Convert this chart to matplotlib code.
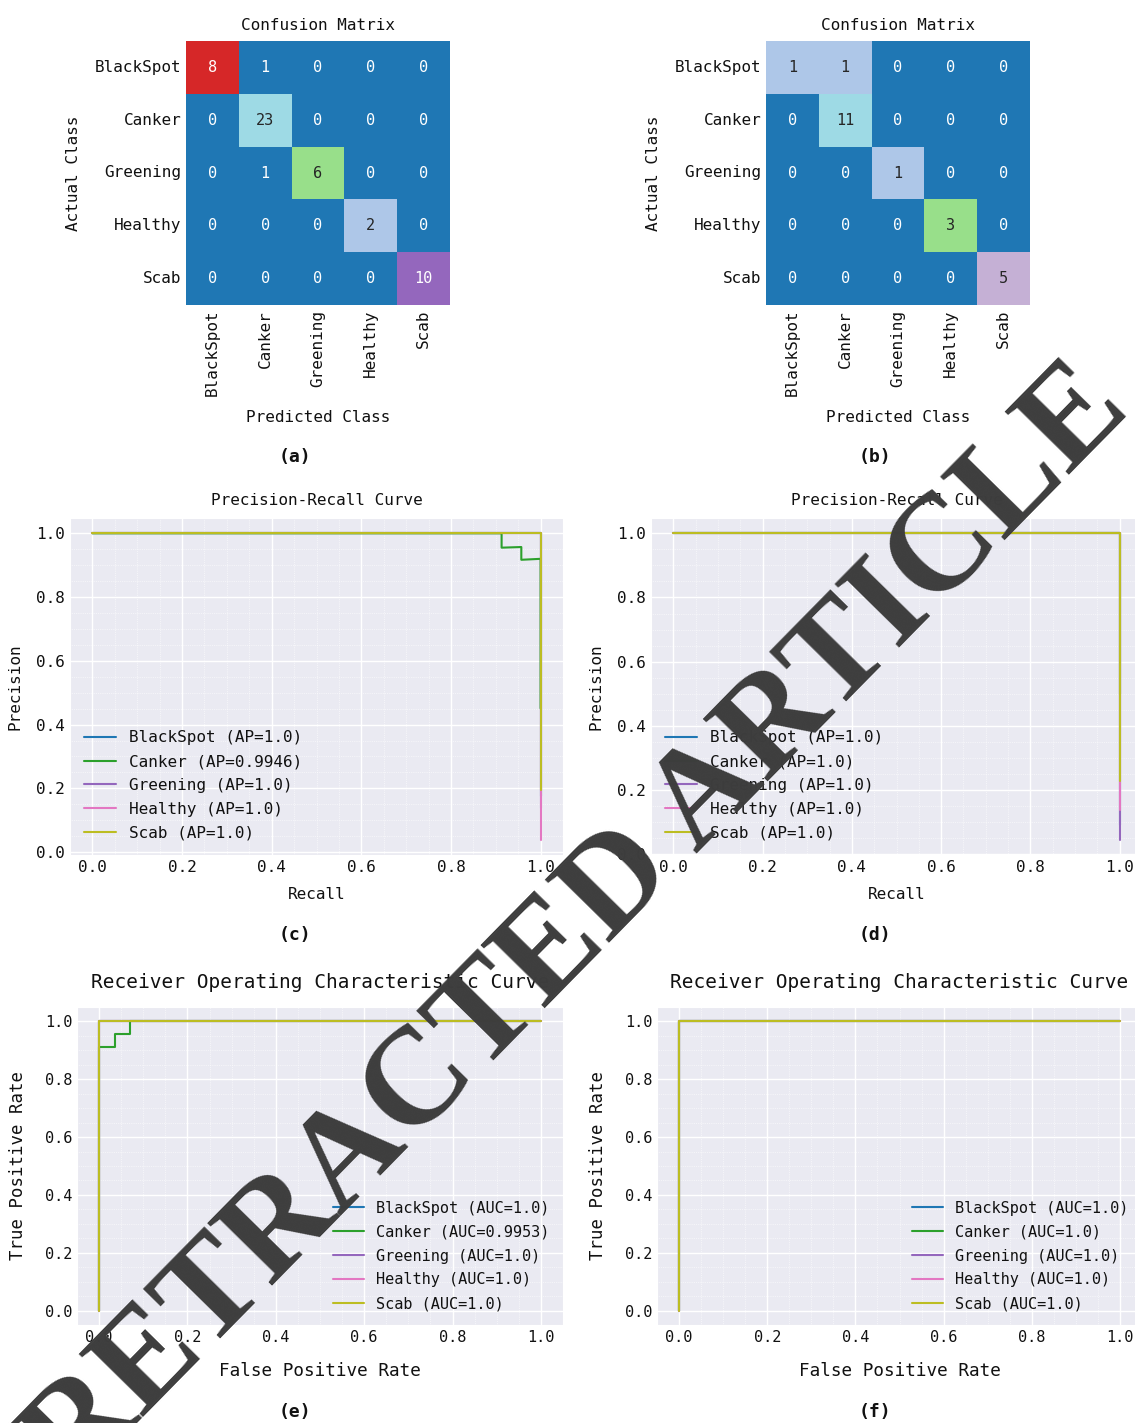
import numpy as np
import seaborn as sns
from matplotlib import pyplot as plt
from matplotlib.ticker import AutoMinorLocator

# class names and confusion matrices (rows = actual, cols = predicted)
classes = ["BlackSpot", "Canker", "Greening", "Healthy", "Scab"]
cm_a = [[8, 1, 0, 0, 0],
        [0, 23, 0, 0, 0],
        [0, 1, 6, 0, 0],
        [0, 0, 0, 2, 0],
        [0, 0, 0, 0, 10]]
cm_b = [[1, 1, 0, 0, 0],
        [0, 11, 0, 0, 0],
        [0, 0, 1, 0, 0],
        [0, 0, 0, 3, 0],
        [0, 0, 0, 0, 5]]

# precision-recall curves, panel (c)
pr_c_recall = [[0, 1, 1],
               [0, 0.913, 0.913, 0.957, 0.957, 1.0, 1.0],
               [0, 1, 1],
               [0, 1, 1],
               [0, 1, 1]]
pr_c_precision = [[1, 1, 0.176],
                  [1, 1, 0.955, 0.957, 0.917, 0.92, 0.451],
                  [1, 1, 0.137],
                  [1, 1, 0.039],
                  [1, 1, 0.196]]
ap_c = [1.0, 0.9946, 1.0, 1.0, 1.0]

# precision-recall curves, panel (d)
pr_d_recall = [[0, 1, 1], [0, 1, 1], [0, 1, 1], [0, 1, 1], [0, 1, 1]]
pr_d_precision = [[1, 1, 0.091],
                  [1, 1, 0.5],
                  [1, 1, 0.045],
                  [1, 1, 0.136],
                  [1, 1, 0.227]]
ap_d = [1.0, 1.0, 1.0, 1.0, 1.0]

# ROC curves, panel (e)
roc_e_fpr = [[0, 0, 1],
             [0, 0, 0.036, 0.036, 0.071, 0.071, 1],
             [0, 0, 1],
             [0, 0, 1],
             [0, 0, 1]]
roc_e_tpr = [[0, 1, 1],
             [0, 0.913, 0.913, 0.957, 0.957, 1, 1],
             [0, 1, 1],
             [0, 1, 1],
             [0, 1, 1]]
auc_e = [1.0, 0.9953, 1.0, 1.0, 1.0]

# ROC curves, panel (f)
roc_f_fpr = [[0, 0, 1], [0, 0, 1], [0, 0, 1], [0, 0, 1], [0, 0, 1]]
roc_f_tpr = [[0, 1, 1], [0, 1, 1], [0, 1, 1], [0, 1, 1], [0, 1, 1]]
auc_f = [1.0, 1.0, 1.0, 1.0, 1.0]

line_colors = ["#1f77b4", "#2ca02c", "#9467bd", "#e377c2", "#bcbd22"]

sns.set_style("darkgrid")
plt.rcParams["font.family"] = ["DejaVu Sans Mono"]
plt.rcParams["text.color"] = "#111111"
plt.rcParams["axes.labelcolor"] = "#111111"
plt.rcParams["xtick.color"] = "#111111"
plt.rcParams["ytick.color"] = "#111111"

W, H = 1135, 1423
fig = plt.figure(figsize=(W / 100, H / 100), dpi=100)


def px_axes(x0, y0, x1, y1):
    return fig.add_axes([x0 / W, 1 - y1 / H, (x1 - x0) / W, (y1 - y0) / H])


def draw_cm(ax, cm):
    sns.heatmap(np.array(cm), ax=ax, cmap="tab20", annot=True, fmt="d",
                cbar=False, square=True, xticklabels=classes, yticklabels=classes,
                annot_kws={"fontsize": 11})
    ax.set_title("Confusion Matrix", fontsize=11.5, pad=8)
    ax.set_xlabel("Predicted Class", fontsize=11.5, labelpad=10)
    ax.set_ylabel("Actual Class", fontsize=11.5, labelpad=10)
    ax.tick_params(axis="x", labelrotation=90, labelsize=11.5, length=0)
    ax.tick_params(axis="y", labelrotation=0, labelsize=11.5, length=0)


def style_curve_ax(ax):
    ax.xaxis.set_minor_locator(AutoMinorLocator(4))
    ax.yaxis.set_minor_locator(AutoMinorLocator(4))
    ax.grid(which="major", color="white", linewidth=1.0)
    ax.grid(which="minor", color="white", linewidth=0.5, linestyle=":")
    ax.tick_params(which="both", length=0)


def draw_pr(ax, rec, prec, ap):
    for i, name in enumerate(classes):
        ax.plot(rec[i], prec[i], color=line_colors[i], linewidth=1.5,
                label="{} (AP={})".format(name, ap[i]))
    style_curve_ax(ax)
    ax.set_title("Precision-Recall Curve", fontsize=11.5, pad=9)
    ax.set_xlabel("Recall", fontsize=11.5, labelpad=9)
    ax.set_ylabel("Precision", fontsize=11.5, labelpad=10)
    ax.tick_params(labelsize=11.5)
    ax.legend(loc="lower left", fontsize=11.5, labelspacing=0.55, frameon=False)


def draw_roc(ax, fpr, tpr, auc):
    for i, name in enumerate(classes):
        ax.plot(fpr[i], tpr[i], color=line_colors[i], linewidth=1.5,
                label="{} (AUC={})".format(name, auc[i]))
    style_curve_ax(ax)
    ax.set_title("Receiver Operating Characteristic Curve", fontsize=14, pad=13.5)
    ax.set_xlabel("False Positive Rate", fontsize=12.7, labelpad=12.5)
    ax.set_ylabel("True Positive Rate", fontsize=12.5, labelpad=13)
    ax.tick_params(labelsize=11)
    ax.legend(loc="lower right", fontsize=11, labelspacing=0.58, frameon=False)


# confusion matrices
draw_cm(px_axes(186, 41, 450, 305), cm_a)
draw_cm(px_axes(766, 41, 1030, 305), cm_b)

# precision-recall
draw_pr(px_axes(70, 518, 563, 855), pr_c_recall, pr_c_precision, ap_c)
draw_pr(px_axes(651, 518, 1142, 855), pr_d_recall, pr_d_precision, ap_d)

# ROC
draw_roc(px_axes(77, 1007, 563, 1325), roc_e_fpr, roc_e_tpr, auc_e)
draw_roc(px_axes(657, 1007, 1142, 1325), roc_f_fpr, roc_f_tpr, auc_f)

# panel letters
for lab, x, y in [("(a)", 295, 457), ("(b)", 875, 457), ("(c)", 295, 935),
                  ("(d)", 875, 935), ("(e)", 295, 1412), ("(f)", 875, 1412)]:
    fig.text(x / W, 1 - y / H, lab, ha="center", va="center",
             fontsize=13, fontweight="bold")

# retraction watermark
fig.text(578 / W, 1 - 927 / H, "RETRACTED ARTICLE", ha="center", va="center",
         rotation=45.5, rotation_mode="anchor", fontsize=99, fontweight="bold",
         family="Liberation Serif", color="#3d3d3d", zorder=10)

fig.savefig("out.png", dpi=100)
